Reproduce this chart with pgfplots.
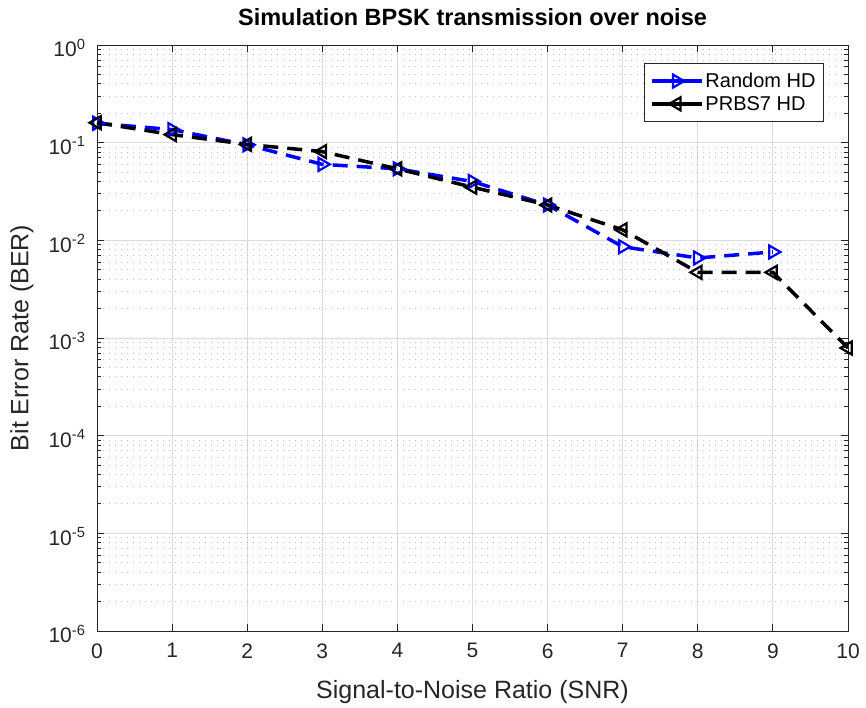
\documentclass[border=0pt]{standalone}
\usepackage{pgfplots}
\pgfplotsset{compat=1.18}
\usepackage{fontspec}
\setmainfont{Liberation Sans}
\definecolor{axgray}{rgb}{0.15,0.15,0.15}
\definecolor{gridgray}{rgb}{0.86,0.86,0.86}
\begin{document}
\begin{tikzpicture}
\path[use as bounding box] (-97pt,-77pt) rectangle (769pt,631pt);
\begin{axis}[
  at={(0,0)}, anchor=south west,
  scale only axis,
  width=751pt, height=586pt,
  ymode=log,
  xmin=0, xmax=10, ymin=1e-6, ymax=1,
  xtick={0,1,...,10},
  ytick={1e-6,1e-5,1e-4,1e-3,1e-2,1e-1,1},
  yticklabels={10\textsuperscript{-6},10\textsuperscript{-5},10\textsuperscript{-4},10\textsuperscript{-3},10\textsuperscript{-2},10\textsuperscript{-1},10\textsuperscript{0}},
  /pgf/number format/assume math mode=true,
  tick label style={font=\fontsize{21}{21}\selectfont, color=axgray},
  xticklabel style={yshift=-9pt},
  yticklabel style={xshift=-8pt, yshift=-3pt},
  axis line style={axgray, line width=0.9pt},
  tick style={axgray, line width=0.9pt},
  major tick length=7pt, minor tick length=4pt,
  tick align=inside,
  xtick pos=both, ytick pos=both,
  grid=both,
  major grid style={gridgray, line width=0.9pt},
  minor grid style={gray!50, line width=1pt, dash pattern=on 1pt off 5pt},
  minor x tick num=0,
  xmajorgrids=true, xminorgrids=false,
  xlabel={Signal-to-Noise Ratio (SNR)},
  ylabel={Bit Error Rate (BER)},
  label style={font=\fontsize{25}{25}\selectfont, color=axgray},
  xlabel style={at={(axis description cs:0.5,0)}, anchor=center, yshift=-61pt},
  ylabel style={at={(axis description cs:-0.1,0.5)}, anchor=center, rotate=0},
  title={Simulation BPSK transmission over noise},
  title style={font=\bfseries\fontsize{23.5}{23.5}\selectfont, at={(axis description cs:0.5,1)}, anchor=south, yshift=10pt},
  legend style={at={(0.968,0.969)}, anchor=north east, font=\fontsize{20}{28}\selectfont,
    draw=axgray, line width=0.9pt, fill=white, inner xsep=6pt, inner ysep=6pt,
    nodes={inner ysep=3.5pt}},
  legend cell align=left,
  legend image code/.code={
    \draw[#1, solid] (0pt,0pt) -- (50pt,0pt);
    \draw[#1, only marks] plot coordinates {(25pt,0pt)};
  },
]
\addplot[blue, line width=3.5pt, dash pattern=on 15pt off 9pt, mark=triangle, mark size=7.5pt,
  mark options={solid, rotate=-90, line width=2.2pt}]
  coordinates {
  (0,0.158) (1,0.136) (2,0.095) (3,0.060) (4,0.054) (5,0.040) (6,0.023) (7,0.0086) (8,0.0066) (9,0.0076)
  };
\addlegendentry{Random HD}
\addplot[black, line width=3.5pt, dash pattern=on 15pt off 9pt, mark=triangle, mark size=7.5pt,
  mark options={solid, rotate=90, line width=2.2pt}]
  coordinates {
  (0,0.160) (1,0.121) (2,0.096) (3,0.081) (4,0.054) (5,0.035) (6,0.023) (7,0.0128) (8,0.0047) (9,0.0047) (10,0.00079)
  };
\addlegendentry{PRBS7 HD}
\end{axis}
\end{tikzpicture}
\end{document}
